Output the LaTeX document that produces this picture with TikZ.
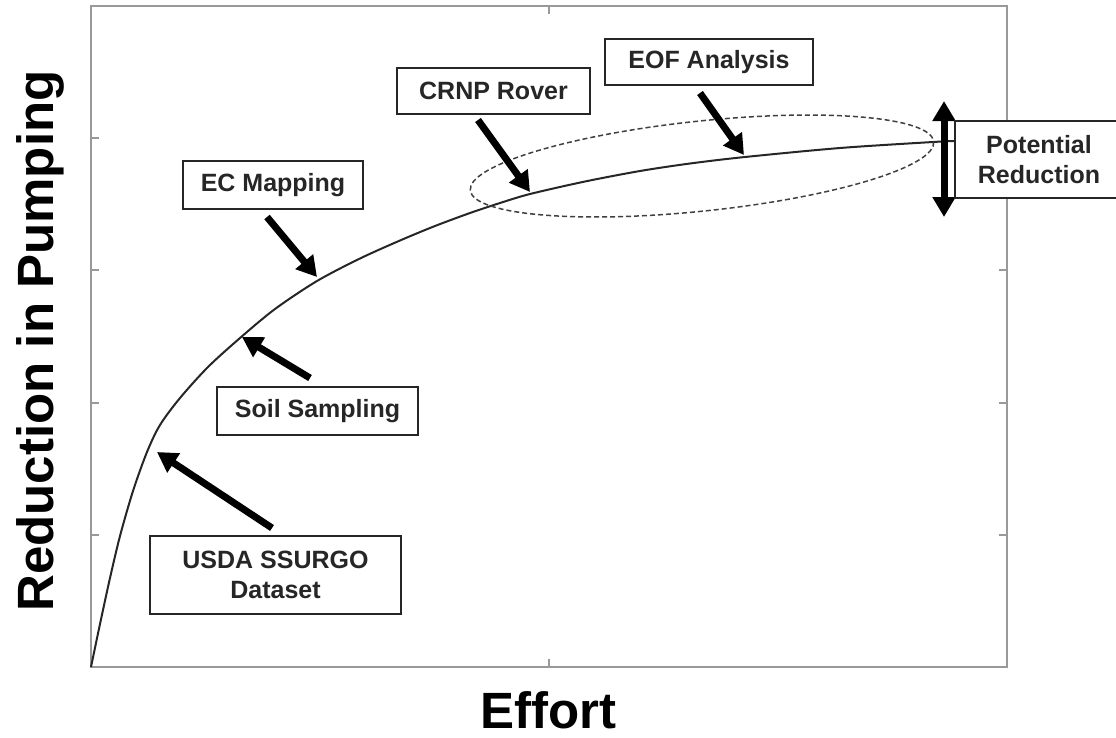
\documentclass[tikz,border=0pt]{standalone}
\usepackage{fontspec}
\setmainfont{Liberation Sans}
\usetikzlibrary{arrows.meta}
\begin{document}
\begin{tikzpicture}[x=1pt,y=-1pt,
  frame/.style={draw=black!40, line width=2pt},
  lbl/.style={draw=black!85, line width=1.6pt, fill=white, inner sep=0pt, align=center,
    font=\fontsize{25}{30}\selectfont\bfseries, text=black!85},
  ptr/.style={draw=black, line width=7pt, -{Triangle[width=22pt,length=20pt]}},
  axlbl/.style={font=\fontsize{51}{60}\selectfont\bfseries, text=black, inner sep=0pt}]
\useasboundingbox (0,0) rectangle (1116,737);
% frame and ticks
\draw[frame] (91,6) rectangle (1007,667);
\foreach \yy in {138,270,403,535}{
  \draw[frame] (91,\yy) -- (99,\yy);
  \draw[frame] (1007,\yy) -- (999,\yy);
}
\draw[frame] (549,667) -- (549,659);
\draw[frame] (549,6) -- (549,14);
% curve
\draw[black!85, line width=2pt] plot[smooth] coordinates {
 (91,667) (100,624) (110,578) (120,536) (133,491) (147,452) (160,425) (180,398)
 (208,367) (240,338) (275,309) (317,281) (360,258.5) (400,240.5) (435,226) (470,213)
 (500,203) (530,194) (585,181.5) (640,171) (690,163.5) (745,157) (840,148) (933,142) (955,141)};
% ellipse
\draw[black!75, line width=1.5pt, dash pattern=on 5pt off 3pt, rotate around={6:(702,166)}]
  (702,166) ellipse [x radius=233, y radius=45];
% arrow coordinates
\coordinate (usdaT) at (272,528); \coordinate (usdaH) at (157,452);
\coordinate (soilT) at (310,378); \coordinate (soilH) at (242,337);
\coordinate (ecT) at (267,217);   \coordinate (ecH) at (317,277);
\coordinate (crT) at (478,120);   \coordinate (crH) at (530,192);
\coordinate (eofT) at (700,93);   \coordinate (eofH) at (744,155);
\coordinate (potTop) at (944,101); \coordinate (potBot) at (944,217);
\draw[ptr] (usdaT) -- (usdaH);
\draw[ptr] (soilT) -- (soilH);
\draw[ptr] (ecT) -- (ecH);
\draw[ptr] (crT) -- (crH);
\draw[ptr] (eofT) -- (eofH);
\draw[draw=black, line width=7pt, {Triangle[width=22pt,length=20pt]}-{Triangle[width=22pt,length=20pt]}] (potTop) -- (potBot);
% boxes
\node[lbl, minimum width=180pt, minimum height=48pt] (ec) at (273,185) {EC Mapping};
\node[lbl, minimum width=193pt, minimum height=46pt] (crnp) at (493.5,91) {CRNP Rover};
\node[lbl, minimum width=208pt, minimum height=46pt] (eof) at (709,62) {EOF Analysis};
\node[lbl, minimum width=201pt, minimum height=48pt] (soil) at (317.5,411) {Soil Sampling};
\node[lbl, minimum width=251pt, minimum height=78pt] (usda) at (275.5,575) {USDA SSURGO\\Dataset};
\node[lbl, minimum width=168pt, minimum height=77pt] (pot) at (1039,159.5) {Potential\\Reduction};
% axis labels
\node[axlbl, anchor=base] (xl) at (548,728) {Effort};
\node[axlbl, anchor=base, rotate=90] (yl) at (53,341) {Reduction in Pumping};
\end{tikzpicture}
\end{document}
